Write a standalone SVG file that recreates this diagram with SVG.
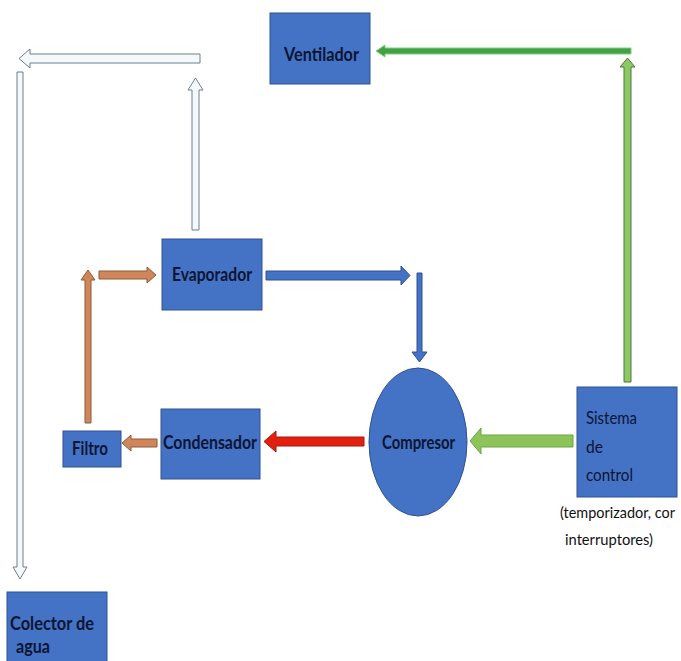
<svg xmlns="http://www.w3.org/2000/svg" width="681" height="661" viewBox="0 0 681 661">
<style>
.box{fill:#4472c4;stroke:#2f528f;stroke-width:1}
.lbl{font-family:Lato,"Liberation Sans",sans-serif;font-weight:bold;font-size:18px;fill:#0b1535}
.lblr{font-family:Lato,"Liberation Sans",sans-serif;font-size:18px;fill:#0b1535}
.note{font-family:Lato,"Liberation Sans",sans-serif;font-size:16px;fill:#111}
.hollow{fill:#f6f9fc;stroke:#6f7e8c;stroke-width:1}
.blue{fill:#4472c4;stroke:#2f528f;stroke-width:1}
.brown{fill:#d0865a;stroke:#8a5a38;stroke-width:1}
.red{fill:#e3200f;stroke:#a01a10;stroke-width:1}
.lgreen{fill:#8cc45a;stroke:#6fa545;stroke-width:1}
.vgreen{fill:#8cc866;stroke:#4d7a34;stroke-width:1}
.dgreen{fill:#44a044;stroke:#7fcf7f;stroke-width:1}
</style>
<rect width="681" height="661" fill="#ffffff"/>
<g id="connectors">
  <polygon class="hollow" points="200,54 30,54 30,49 19,58.5 30,68 30,63 200,63"/>
  <polygon class="hollow" points="192,230 192,90 188,90 195.5,78 203,90 199,90 199,230"/>
  <polygon class="hollow" points="17,72 23,72 23,567 27,567 20,579 13,567 17,567"/>
  <polygon class="dgreen" points="631,48 385,48 385,45 376,51 385,57 385,54 631,54"/>
  <polygon class="vgreen" points="624,382 624,67 620,67 627.5,58 635,67 631,67 631,382"/>
  <polygon class="lgreen" points="573,435 481,435 481,428 470,441 481,454 481,447 573,447"/>
  <polygon class="red" points="364,437 276,437 276,431 264,441.5 276,452 276,446 364,446"/>
  <polygon class="brown" points="157,439 131,439 131,435 122,443 131,451 131,447 157,447"/>
  <polygon class="brown" points="85,423 85,280 81,280 88,270 95,280 91,280 91,423"/>
  <polygon class="brown" points="99,271 147,271 147,267 156,275 147,283 147,279 99,279"/>
  <polygon class="blue" points="266,271 401,271 401,266 410,275.5 401,285 401,280 266,280"/>
  <polygon class="blue" points="417,273 422,273 422,352 427,352 419.5,362 412,352 417,352"/>
</g>
<g id="ventilador">
  <rect class="box" x="270" y="13" width="100" height="71"/>
  <text class="lbl" x="284" y="61" textLength="75" lengthAdjust="spacingAndGlyphs">Ventilador</text>
</g>
<g id="evaporador">
  <rect class="box" x="162" y="239" width="100" height="71"/>
  <text class="lbl" x="172" y="281" textLength="80" lengthAdjust="spacingAndGlyphs">Evaporador</text>
</g>
<g id="condensador">
  <rect class="box" x="161" y="409" width="99" height="70"/>
  <text class="lbl" x="163" y="449" textLength="94" lengthAdjust="spacingAndGlyphs">Condensador</text>
</g>
<g id="filtro">
  <rect class="box" x="63" y="431" width="58" height="36"/>
  <text class="lbl" x="72" y="455" textLength="36" lengthAdjust="spacingAndGlyphs">Filtro</text>
</g>
<g id="compresor">
  <ellipse class="box" cx="418" cy="442" rx="49" ry="74"/>
  <text class="lbl" x="382" y="449" textLength="73" lengthAdjust="spacingAndGlyphs">Compresor</text>
</g>
<g id="sistema">
  <rect class="box" x="577" y="387" width="100" height="110"/>
  <text class="lblr" x="586" y="424" textLength="51" lengthAdjust="spacingAndGlyphs">Sistema</text>
  <text class="lblr" x="586" y="453" textLength="17" lengthAdjust="spacingAndGlyphs">de</text>
  <text class="lblr" x="586" y="481" textLength="47" lengthAdjust="spacingAndGlyphs">control</text>
  <text class="note" transform="translate(560,518) scale(1,1.12)" x="0" y="0" style="font-size:14.5px" textLength="115" lengthAdjust="spacingAndGlyphs">(temporizador, cor</text>
  <text class="note" x="565" y="545" textLength="88" lengthAdjust="spacingAndGlyphs">interruptores)</text>
</g>
<g id="colector">
  <rect class="box" x="7" y="592" width="100" height="75"/>
  <text class="lbl" x="10" y="630" textLength="84" lengthAdjust="spacingAndGlyphs">Colector de</text>
  <text class="lbl" x="16" y="653" textLength="34" lengthAdjust="spacingAndGlyphs">agua</text>
</g>
</svg>
